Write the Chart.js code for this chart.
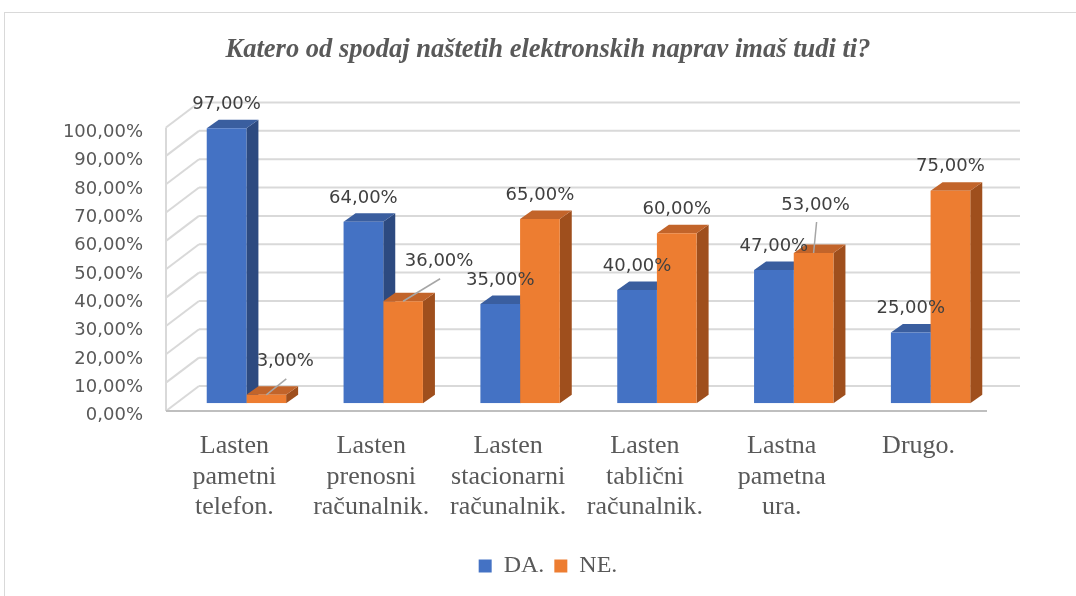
<!DOCTYPE html>
<html>
<head>
<meta charset="utf-8">
<script src="https://cdn.jsdelivr.net/npm/chart.js@4/dist/chart.umd.min.js"></script>
<style>
  body { margin: 0; background: #ffffff; }
  #wrap { width: 1076px; height: 596px; }
</style>
</head>
<body>
<div id="wrap"><canvas id="chart" width="1076" height="596"></canvas></div>
<script>
var title = 'Katero od spodaj naštetih elektronskih naprav imaš tudi ti?';
var categories = [
  ['Lasten', 'pametni', 'telefon.'],
  ['Lasten', 'prenosni', 'računalnik.'],
  ['Lasten', 'stacionarni', 'računalnik.'],
  ['Lasten', 'tablični', 'računalnik.'],
  ['Lastna', 'pametna', 'ura.'],
  ['Drugo.']
];
var seriesNames = ['DA.', 'NE.'];
var da = [97, 64, 35, 40, 47, 25];
var ne = [3, 36, 65, 60, 53, 75];
var yTicks = [0, 10, 20, 30, 40, 50, 60, 70, 80, 90, 100];

// face colours for the fake 3d look
var faces = [
  { front: '#4472c4', top: '#3a5e9f', side: '#2d4a80' },
  { front: '#ed7d31', top: '#c2642a', side: '#9f4f1d' }
];
var depth = { dx: 12, dy: -8.5 };       // bar depth
var wallFront = { dx: -12, dy: 7.7 };    // front edge of walls vs bar front
var wallBack = { dx: 21, dy: -17.3 };    // back wall vs bar front

// labels that Excel moved off their bar, with a leader line
var movedLabels = { '1,0': [19, -9], '1,1': [36, -15.5], '1,4': [2, -24] };

function pct(v) {
  return v.toFixed(2).replace('.', ',') + '%';
}

function poly(ctx, pts, color) {
  ctx.beginPath();
  ctx.moveTo(pts[0][0], pts[0][1]);
  for (var i = 1; i < pts.length; i++) ctx.lineTo(pts[i][0], pts[i][1]);
  ctx.closePath();
  ctx.fillStyle = color;
  ctx.fill();
}

var frame = {
  id: 'frame',
  beforeDraw: function(chart) {
    var ctx = chart.ctx;
    ctx.save();
    ctx.fillStyle = '#ffffff';
    ctx.fillRect(0, 0, chart.width, chart.height);
    ctx.strokeStyle = '#d9d9d9';
    ctx.lineWidth = 1;
    ctx.strokeRect(4.5, 12.5, 1200, 700);
    ctx.restore();
  }
};

var walls = {
  id: 'walls',
  beforeDatasetsDraw: function(chart) {
    var ctx = chart.ctx;
    var y = chart.scales.y;
    var area = chart.chartArea;
    ctx.save();
    ctx.lineWidth = 2;
    ctx.strokeStyle = '#d9d9d9';
    for (var t of yTicks) {
      var p = y.getPixelForValue(t);
      // back wall
      ctx.beginPath();
      ctx.moveTo(area.left + wallBack.dx, p + wallBack.dy);
      ctx.lineTo(area.right + wallBack.dx, p + wallBack.dy);
      ctx.stroke();
      // side wall
      ctx.beginPath();
      ctx.moveTo(area.left + wallFront.dx, p + wallFront.dy);
      ctx.lineTo(area.left + wallBack.dx, p + wallBack.dy);
      ctx.stroke();
    }
    var top = y.getPixelForValue(100) + wallFront.dy;
    var bot = y.getPixelForValue(0) + wallFront.dy;
    ctx.beginPath();
    ctx.moveTo(area.left + wallFront.dx, top);
    ctx.lineTo(area.left + wallFront.dx, bot);
    ctx.stroke();
    // floor front edge
    ctx.strokeStyle = '#bfbfbf';
    ctx.beginPath();
    ctx.moveTo(area.left + wallFront.dx, bot);
    ctx.lineTo(area.right + wallFront.dx, bot);
    ctx.stroke();

    // tops and sides of the bars, fronts are drawn by chart.js after this
    var metas = [chart.getDatasetMeta(0), chart.getDatasetMeta(1)];
    for (var i = 0; i < categories.length; i++) {
      for (var d = 0; d < 2; d++) {
        var bar = metas[d].data[i];
        var l = bar.x - bar.width / 2, r = bar.x + bar.width / 2;
        var tp = bar.y, bs = bar.base;
        poly(ctx, [[r, tp], [r + depth.dx, tp + depth.dy], [r + depth.dx, bs + depth.dy], [r, bs]], faces[d].side);
        poly(ctx, [[l, tp], [r, tp], [r + depth.dx, tp + depth.dy], [l + depth.dx, tp + depth.dy]], faces[d].top);
      }
    }
    ctx.restore();
  }
};

var valueLabels = {
  id: 'valueLabels',
  afterDatasetsDraw: function(chart) {
    var ctx = chart.ctx;
    ctx.save();
    ctx.font = '18px "DejaVu Sans"';
    ctx.textAlign = 'center';
    ctx.textBaseline = 'middle';
    chart.data.datasets.forEach(function(ds, d) {
      chart.getDatasetMeta(d).data.forEach(function(bar, i) {
        var lx = bar.x, ly = bar.y - 24;
        var shift = movedLabels[d + ',' + i];
        if (shift) {
          lx += shift[0];
          ly += shift[1];
          ctx.strokeStyle = '#a6a6a6';
          ctx.lineWidth = 1.5;
          ctx.beginPath();
          ctx.moveTo(bar.x, bar.y);
          ctx.lineTo(lx + 1, ly + 17);
          ctx.stroke();
        }
        ctx.fillStyle = '#404040';
        ctx.fillText(pct(ds.data[i]), lx, ly);
      });
    });
    ctx.restore();
  }
};

new Chart(document.getElementById('chart'), {
  type: 'bar',
  data: {
    labels: categories,
    datasets: [
      { label: seriesNames[0], data: da, backgroundColor: faces[0].front, borderWidth: 0 },
      { label: seriesNames[1], data: ne, backgroundColor: faces[1].front, borderWidth: 0 }
    ]
  },
  options: {
    responsive: false,
    animation: false,
    devicePixelRatio: 1,
    categoryPercentage: 0.58,
    barPercentage: 1,
    layout: { padding: { left: 20, right: 0, top: 0, bottom: 8 } },
    plugins: {
      title: {
        display: true,
        text: title,
        color: '#595959',
        font: { family: '"Liberation Serif"', size: 26.5, style: 'italic', weight: 'bold', lineHeight: 1.2 },
        padding: { top: 34, bottom: 54 }
      },
      legend: {
        position: 'bottom',
        labels: {
          color: '#595959',
          font: { family: '"Liberation Serif"', size: 24 },
          boxWidth: 13,
          boxHeight: 13,
          padding: 10
        }
      },
      tooltip: { enabled: false }
    },
    scales: {
      x: {
        grid: { display: false, drawTicks: false },
        border: { display: false },
        ticks: {
          color: '#595959',
          font: { family: '"Liberation Serif"', size: 26, lineHeight: 1.17 },
          padding: 28,
          labelOffset: -12,
          maxRotation: 0,
          autoSkip: false
        },
        afterFit: function(scale) { scale.height = 140.7; }
      },
      y: {
        min: 0,
        max: 100,
        grid: { display: false, drawTicks: false },
        border: { display: false },
        ticks: {
          stepSize: 10,
          color: '#595959',
          font: { family: '"DejaVu Sans"', size: 18 },
          padding: 35,
          labelOffset: 12.5,
          callback: function(v) { return pct(v); }
        },
        afterFit: function(scale) { scale.width = 158; }
      },
      y2: {
        position: 'right',
        display: true,
        grid: { display: false, drawTicks: false },
        border: { display: false },
        ticks: { display: false },
        afterFit: function(scale) { scale.width = 77; }
      }
    }
  },
  plugins: [frame, walls, valueLabels]
});
</script>
</body>
</html>
